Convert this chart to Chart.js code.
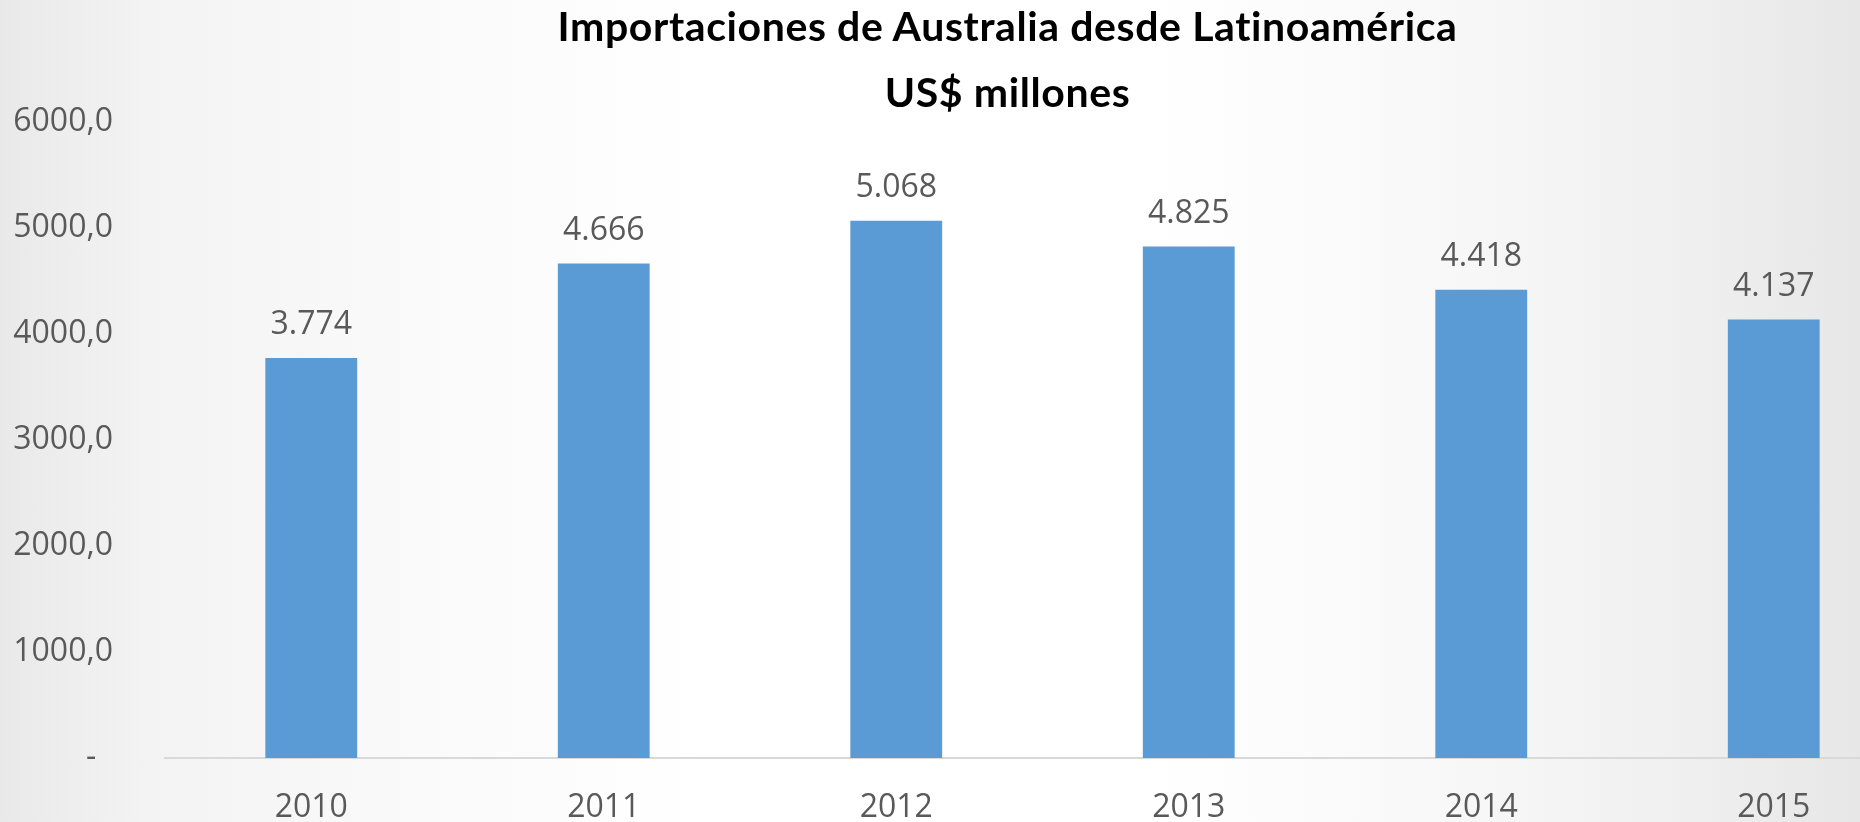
<!DOCTYPE html>
<html lang="es">
<head>
<meta charset="utf-8">
<title>Importaciones de Australia desde Latinoamérica</title>
<script src="https://cdn.jsdelivr.net/npm/chart.js@4"></script>
<style>
  html, body { margin: 0; padding: 0; width: 1860px; height: 822px; overflow: hidden; }
  body {
    position: relative;
    background: linear-gradient(90deg, #e9e9e9 0%, #f3f3f3 8%, #f9f9f9 20%, #ffffff 38%,
                                #ffffff 62%, #f8f8f8 78%, #f0f0f0 90%, #e7e7e7 100%);
  }
  #wrap { position: absolute; left: 0; top: 0; width: 1920px; height: 840px; }
  #title {
    position: absolute; left: 0; top: -7px; width: 2015px;
    text-align: center; color: #000;
    font: bold 41px/66px Lato, sans-serif; letter-spacing: 0.6px;
    z-index: 2;
  }
</style>
</head>
<body>
<div id="wrap"><canvas id="chart" width="1920" height="840"></canvas></div>
<div id="title"></div>
<script>
// Imports by year, millions of US$
const YEARS = ['2010', '2011', '2012', '2013', '2014', '2015'];
const IMPORTS = [3774, 4666, 5068, 4825, 4418, 4137];
const TITLE_LINES = ['Importaciones de Australia desde Latinoamérica', 'US$ millones'];

const TEXT_GRAY = '#595959';
const BAR_BLUE = '#5B9BD5';

// two-line heading above the plot
document.getElementById('title').innerHTML =
  TITLE_LINES.map(t => `<div>${t}</div>`).join('');

// 3774 -> "3.774"
function thousands(v) {
  return String(v).replace(/\B(?=(\d{3})+(?!\d))/g, '.');
}

// 6000 -> "6000,0", zero shown as a dash
function yTick(v) {
  if (v === 0) return '-  ';
  return v.toFixed(1).replace('.', ',');
}

// value labels above each bar
const barLabels = {
  id: 'barLabels',
  afterDatasetsDraw(chart) {
    const ctx = chart.ctx;
    const meta = chart.getDatasetMeta(0);
    ctx.save();
    ctx.font = '32px "Open Sans"';
    ctx.fillStyle = TEXT_GRAY;
    ctx.textAlign = 'center';
    ctx.textBaseline = 'middle';
    meta.data.forEach((bar, i) => {
      ctx.fillText(thousands(IMPORTS[i]), bar.x, bar.y - 33);
    });
    ctx.restore();
  }
};

new Chart(document.getElementById('chart'), {
  type: 'bar',
  data: {
    labels: YEARS,
    datasets: [{
      data: IMPORTS,
      backgroundColor: BAR_BLUE,
      categoryPercentage: 1,
      barPercentage: 0.314
    }]
  },
  options: {
    responsive: false,
    animation: false,
    layout: { padding: { left: 0, right: 0, top: 122, bottom: 0 } },
    plugins: {
      legend: { display: false },
      tooltip: { enabled: false }
    },
    scales: {
      x: {
        grid: { display: true, drawOnChartArea: false, drawTicks: false },
        border: { display: true, color: '#d9d9d9', width: 2 },
        ticks: { color: TEXT_GRAY, font: { family: 'Open Sans', size: 32 }, padding: 31, maxRotation: 0 },
        afterFit(scale) { scale.height = 82; }
      },
      y: {
        min: 0,
        max: 6000,
        grid: { display: false },
        border: { display: false },
        ticks: {
          stepSize: 1000,
          color: TEXT_GRAY,
          font: { family: 'Open Sans', size: 32 },
          padding: 44,
          callback: yTick
        },
        afterFit(scale) { scale.width = 165; }
      }
    }
  },
  plugins: [barLabels]
});
</script>
</body>
</html>
